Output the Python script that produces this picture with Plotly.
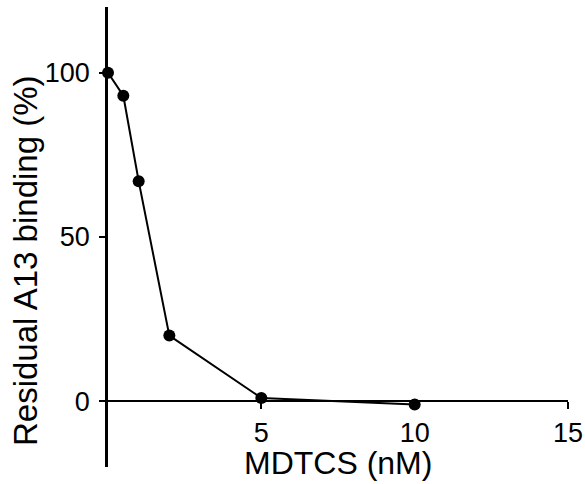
import plotly.graph_objects as go

# MDTCS concentration (nM) and residual A13 binding (%)
mdtcs_nm = [0, 0.5, 1, 2, 5, 10]
residual_binding = [100, 93, 67, 20, 1, -1]

x_ticks = [5, 10, 15]
y_ticks = [0, 50, 100]
x_range = [0, 15]
y_range = [-20, 120]

FONT = "Liberation Sans, Arial, sans-serif"

fig = go.Figure()
fig.add_trace(go.Scatter(
    x=mdtcs_nm,
    y=residual_binding,
    mode="lines+markers",
    line=dict(color="black", width=2),
    marker=dict(color="black", size=12),
    cliponaxis=False,
    showlegend=False,
))

# x axis sits on y = 0 inside the plotting area
x_axis_pos = (0 - y_range[0]) / (y_range[1] - y_range[0])

fig.update_layout(
    width=585,
    height=484,
    margin=dict(l=108, r=17, t=7, b=17),
    paper_bgcolor="white",
    plot_bgcolor="white",
    font=dict(family=FONT, color="black"),
    xaxis=dict(
        range=x_range,
        anchor="free",
        position=x_axis_pos,
        showline=True,
        linecolor="black",
        linewidth=2,
        showgrid=False,
        zeroline=False,
        ticks="outside",
        ticklen=7,
        tickwidth=2,
        tickcolor="black",
        tickvals=x_ticks,
        tickfont=dict(size=27, family=FONT, color="black"),
        automargin=False,
    ),
    yaxis=dict(
        range=y_range,
        showline=True,
        linecolor="black",
        linewidth=2.5,
        showgrid=False,
        zeroline=False,
        ticks="outside",
        ticklen=6,
        tickwidth=2,
        tickcolor="black",
        tickvals=y_ticks,
        tickfont=dict(size=27, family=FONT, color="black"),
        ticklabelstandoff=4,
        automargin=False,
    ),
    annotations=[
        dict(
            text="MDTCS (nM)",
            xref="paper", yref="paper",
            x=0.5, y=0.008,
            xanchor="center", yanchor="middle",
            showarrow=False,
            font=dict(size=32, family=FONT, color="black"),
        ),
        dict(
            text="Residual A13 binding (%)",
            xref="paper", yref="paper",
            x=-0.178, y=0.448,
            xanchor="center", yanchor="middle",
            textangle=-90,
            showarrow=False,
            font=dict(size=33, family=FONT, color="black"),
        ),
    ],
)

fig.write_html("out.html")
